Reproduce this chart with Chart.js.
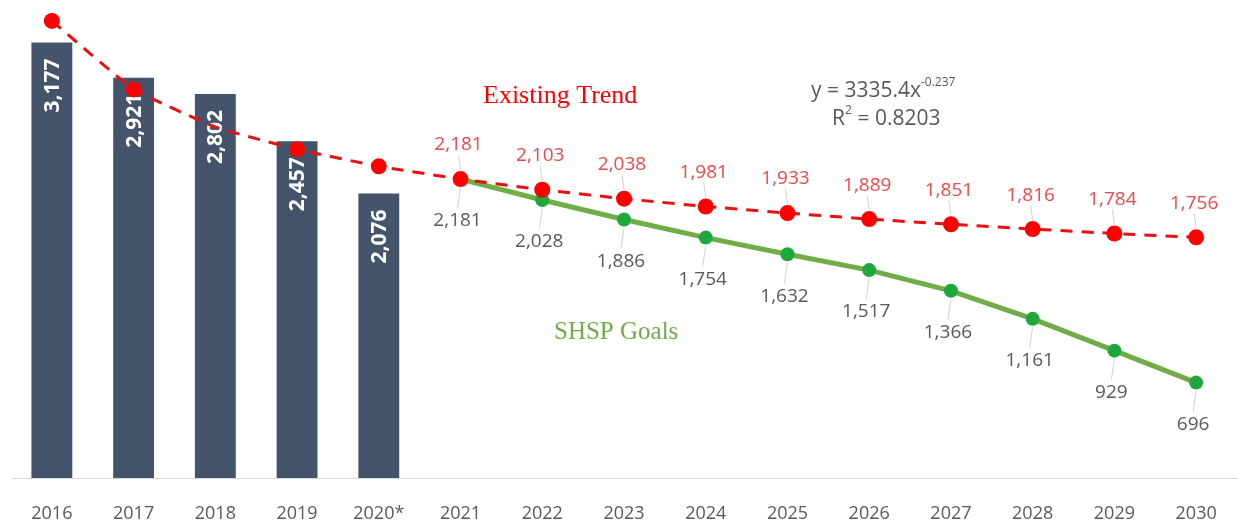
<!DOCTYPE html>
<html>
<head>
<meta charset="utf-8">
<script src="https://cdn.jsdelivr.net/npm/chart.js@4.4.1/dist/chart.umd.min.js"></script>
<style>
  html, body { margin: 0; padding: 0; background: #fff; }
  #wrap { width: 1238px; height: 525px; }
</style>
</head>
<body>
<div id="wrap"><canvas id="chart" width="1238" height="525"></canvas></div>
<script>
const years = ['2016', '2017', '2018', '2019', '2020*', '2021', '2022', '2023', '2024',
  '2025', '2026', '2027', '2028', '2029', '2030'];
const fatalities = [3177, 2921, 2802, 2457, 2076, null, null, null, null, null, null, null, null, null, null];
const trend = [3335, 2835, 2560, 2398, 2274, 2181, 2103, 2038, 1981, 1933, 1889, 1851, 1816, 1784, 1756];
const goals = [null, null, null, null, null, 2181, 2028, 1886, 1754, 1632, 1517, 1366, 1161, 929, 696];
const firstLabelled = 5; // point labels start at 2021

const FONT = '"Open Sans", "Noto Sans", sans-serif';
const fmt = (v) => v.toLocaleString('en-US');

// white rotated labels inside the bars, drawn before the lines go on top
const barLabels = {
  id: 'barLabels',
  afterDatasetDraw(chart, args) {
    if (args.index !== 0) return;
    const ctx = chart.ctx;
    const bars = chart.getDatasetMeta(0).data;
    ctx.save();
    ctx.fillStyle = '#ffffff';
    ctx.font = `bold 21px ${FONT}`;
    ctx.textAlign = 'right';
    ctx.textBaseline = 'middle';
    bars.forEach((bar, i) => {
      if (fatalities[i] == null) return;
      ctx.save();
      ctx.translate(bar.x, bar.y + 16);
      ctx.rotate(-Math.PI / 2);
      ctx.fillText(fmt(fatalities[i]), 0, 1);
      ctx.restore();
    });
    ctx.restore();
  },
};

// point labels with faint leader lines + free text notes
const notes = {
  id: 'notes',
  afterDraw(chart) {
    const ctx = chart.ctx;
    const red = chart.getDatasetMeta(1).data;
    const green = chart.getDatasetMeta(2).data;
    ctx.save();
    ctx.font = `19px ${FONT}`;
    ctx.textAlign = 'center';
    ctx.textBaseline = 'middle';
    ctx.lineWidth = 1;
    ctx.strokeStyle = 'rgba(190,190,190,0.7)';

    for (let i = firstLabelled; i < years.length; i++) {
      const p = red[i];
      ctx.beginPath();
      ctx.moveTo(p.x - 2, p.y - 24);
      ctx.lineTo(p.x, p.y - 9);
      ctx.stroke();
      ctx.fillStyle = '#f04848';
      ctx.fillText(fmt(trend[i]), p.x - 2, p.y - 34);

      const g = green[i];
      ctx.beginPath();
      ctx.moveTo(g.x, g.y + 8);
      ctx.lineTo(g.x - 3, g.y + 29);
      ctx.stroke();
      ctx.fillStyle = '#595959';
      ctx.fillText(fmt(goals[i]), g.x - 3, g.y + 42);
    }

    // series notes
    ctx.textAlign = 'left';
    ctx.font = '26px "Liberation Serif", "DejaVu Serif", serif';
    ctx.fillStyle = '#ff0000';
    ctx.fillText('Existing Trend', 483, 96);
    ctx.font = '25px "Liberation Serif", "DejaVu Serif", serif';
    ctx.fillStyle = '#70ad47';
    ctx.fillText('SHSP Goals', 554, 332);

    // trendline equation
    ctx.fillStyle = '#595959';
    ctx.font = `21px ${FONT}`;
    const eq = 'y = 3335.4x';
    ctx.fillText(eq, 811, 91);
    const w = ctx.measureText(eq).width;
    ctx.font = `12px ${FONT}`;
    ctx.fillText('-0.237', 811 + w, 83);
    ctx.font = `21px ${FONT}`;
    ctx.fillText('R', 832, 119);
    const rw = ctx.measureText('R').width;
    ctx.font = `12px ${FONT}`;
    ctx.fillText('2', 832 + rw, 111);
    ctx.font = `21px ${FONT}`;
    ctx.fillText(' = 0.8203', 832 + rw + 7, 119);
    ctx.restore();
  },
};

new Chart(document.getElementById('chart'), {
  type: 'bar',
  data: {
    labels: years,
    datasets: [
      {
        label: 'Fatalities',
        data: fatalities,
        backgroundColor: '#44546a',
        categoryPercentage: 1,
        barPercentage: 0.5,
        order: 3,
      },
      {
        type: 'line',
        label: 'Existing Trend',
        data: trend,
        borderColor: '#e81010',
        borderWidth: 3,
        borderDash: [12, 9],
        backgroundColor: '#ff0000',
        pointBackgroundColor: '#ff0000',
        pointBorderWidth: 0,
        pointRadius: (c) => (c.dataIndex === 2 ? 0 : 8),
        tension: 0.1,
        order: 1,
      },
      {
        type: 'line',
        label: 'SHSP Goals',
        data: goals,
        borderColor: '#70ad47',
        borderWidth: 5,
        backgroundColor: '#1ea83c',
        pointBackgroundColor: '#1ea83c',
        pointBorderWidth: 0,
        pointRadius: 7,
        tension: 0,
        order: 2,
      },
    ],
  },
  options: {
    responsive: false,
    animation: false,
    layout: { autoPadding: false, padding: { left: 11, right: 1, top: 12, bottom: 0 } },
    plugins: { legend: { display: false }, tooltip: { enabled: false } },
    scales: {
      x: {
        grid: { display: false, drawTicks: false },
        border: { color: '#d9d9d9', width: 1 },
        ticks: { color: '#595959', font: { family: FONT, size: 18 }, padding: 25 },
        afterFit: (scale) => {
          scale.height = 47;
          scale.paddingLeft = 0;
          scale.paddingRight = 0;
        },
      },
      y: { display: false, min: 0, max: 3400 },
    },
  },
  plugins: [barLabels, notes],
});
</script>
</body>
</html>
